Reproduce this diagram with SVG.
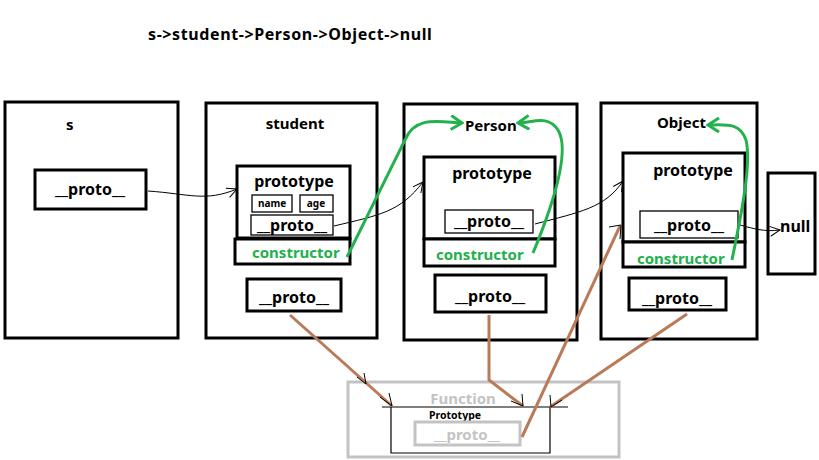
<svg xmlns="http://www.w3.org/2000/svg" width="819" height="460" viewBox="0 0 819 460">
<defs>
<marker id="ab" viewBox="0 0 12 12" refX="11" refY="6" markerWidth="12" markerHeight="12" markerUnits="userSpaceOnUse" orient="auto"><path d="M1,1 L11,6 L1,11" fill="none" stroke="#000" stroke-width="1"/></marker>
<marker id="ag" viewBox="0 0 16 16" refX="14" refY="8" markerWidth="16" markerHeight="16" markerUnits="userSpaceOnUse" orient="auto"><path d="M3,1 L14,8 L3,15" fill="none" stroke="#22b14c" stroke-width="3"/></marker>
</defs>
<style>
.box{fill:#fff;stroke:#000;stroke-width:3}
.thin{fill:#fff;stroke:#000;stroke-width:1.3}
.t{font-family:"Noto Sans","Open Sans",sans-serif;font-weight:bold;fill:#000}
.g{fill:#22b14c}
.gray{fill:#c3c3c3}
.c{text-anchor:middle}
.bl{fill:none;stroke:#000;stroke-width:1}
.gr{fill:none;stroke:#22b14c;stroke-width:3}
.br{fill:none;stroke:#b97a57;stroke-width:3}
</style>
<rect width="819" height="460" fill="#fff"/>
<text class="t" x="148" y="40" font-size="16" letter-spacing="0.6">s-&gt;student-&gt;Person-&gt;Object-&gt;null</text>

<g id="s">
<rect class="box" x="5" y="102" width="173" height="236"/>
<text class="t" x="66" y="130" font-size="15">s</text>
<rect class="box" x="35" y="170" width="111" height="39"/>
<text class="t c" x="90" y="195" font-size="16">__proto__</text>
</g>

<g id="student">
<rect class="box" x="206" y="103" width="171" height="235"/>
<text class="t c" x="295" y="129" font-size="15">student</text>
<rect class="box" x="237" y="166" width="113" height="72"/>
<text class="t c" x="294" y="187" font-size="16">prototype</text>
<rect class="thin" x="252" y="195" width="40" height="17"/>
<text class="t c" x="272" y="207" font-size="10">name</text>
<rect class="thin" x="300" y="195" width="33" height="17"/>
<text class="t c" x="316" y="207" font-size="10">age</text>
<rect class="thin" x="251" y="215" width="82" height="20"/>
<text class="t c" x="292" y="231" font-size="16">__proto__</text>
<rect class="box" x="235" y="239" width="115" height="25"/>
<text class="t g" x="252" y="258" font-size="15">constructor</text>
<rect class="box" x="247" y="279" width="94" height="32"/>
<text class="t c" x="294" y="303" font-size="16">__proto__</text>
</g>

<g id="Person">
<rect class="box" x="404" y="104" width="173" height="236"/>
<text class="t" x="465" y="131" font-size="15">Person</text>
<rect class="box" x="424" y="157" width="131" height="82"/>
<text class="t c" x="492" y="179" font-size="16">prototype</text>
<rect class="thin" x="445" y="210" width="88" height="23"/>
<text class="t c" x="489" y="227" font-size="16">__proto__</text>
<rect class="box" x="424" y="239" width="131" height="27"/>
<text class="t g" x="436" y="260" font-size="15">constructor</text>
<rect class="box" x="435" y="275" width="111" height="37"/>
<text class="t c" x="490" y="302" font-size="16">__proto__</text>
</g>

<g id="Object">
<rect class="box" x="601" y="103" width="156" height="236"/>
<text class="t" x="657" y="128" font-size="15">Object</text>
<rect class="box" x="623" y="153" width="122" height="89"/>
<text class="t c" x="693" y="176" font-size="16">prototype</text>
<rect class="thin" x="640" y="211" width="98" height="27"/>
<text class="t c" x="689" y="231" font-size="16">__proto__</text>
<rect class="box" x="623" y="242" width="122" height="25"/>
<text class="t g" x="637" y="264" font-size="15">constructor</text>
<rect class="box" x="629" y="278" width="97" height="32"/>
<text class="t c" x="677" y="304" font-size="16">__proto__</text>
</g>

<g id="null">
<rect class="box" x="768" y="173" width="47" height="101"/>
<text class="t" x="780" y="232" font-size="16">null</text>
</g>

<g id="Function">
<rect x="348" y="382" width="271" height="75" fill="#fff" stroke="#c3c3c3" stroke-width="3"/>
<text class="t gray c" x="463" y="404" font-size="15">Function</text>
<path d="M382,407 H568 M391,407 V453 H550 V407" fill="none" stroke="#000" stroke-width="1.2"/>
<text class="t c" x="455" y="419" font-size="10.5">Prototype</text>
<rect x="415" y="422" width="105" height="23" fill="none" stroke="#c3c3c3" stroke-width="3"/>
<text class="t gray c" x="467" y="440" font-size="15">__proto__</text>
</g>

<g id="connectors">
<path class="bl" d="M148,191 C190,194 205,202 237,189" marker-end="url(#ab)"/>
<path class="bl" d="M334,226 C380,215 400,212 423,182" marker-end="url(#ab)"/>
<path class="bl" d="M535,224 C580,212 605,208 623,181" marker-end="url(#ab)"/>
<path class="bl" d="M740,225 C755,229 765,232 780,230" marker-end="url(#ab)"/>

<path class="gr" d="M347,257 L405,140 C415,115 440,122 462,123" marker-end="url(#ag)"/>
<path class="gr" d="M533,253 C555,200 570,150 558,130 C548,115 535,122 518,123" marker-end="url(#ag)"/>
<path class="gr" d="M732,260 C740,220 752,165 746,140 C740,122 725,125 708,125" marker-end="url(#ag)"/>

<path class="br" d="M290,315 L392,406"/>
<path class="br" d="M489,315 V380 L523,406"/>
<path class="br" d="M687,314 L550,407"/>
<path class="br" d="M522,437 L620,226"/>
<path class="bl" d="M380,397 L392,406 L389,393" />
<path class="bl" d="M357,377 L366,384 L364,373" />
<path class="bl" d="M511,401 L523,406 L522,394" />
<path class="bl" d="M550,395 L551,407 L562,400" />
<path class="bl" d="M609,227 L621,225 L620,239" />
</g>
</svg>
